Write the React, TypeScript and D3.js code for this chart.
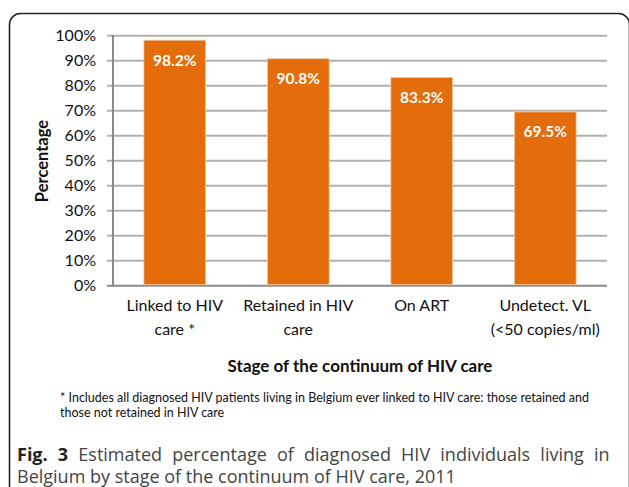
import React from "react";
import * as d3 from "d3";

const categories = ["Linked to HIV|care *", "Retained in HIV|care", "On ART", "Undetect. VL|(<50 copies/ml)"];
const values = [0.982, 0.908, 0.833, 0.695];
const valueLabels = ["98.2%", "90.8%", "83.3%", "69.5%"];
const yTicks = [0, 0.1, 0.2, 0.3, 0.4, 0.5, 0.6, 0.7, 0.8, 0.9, 1.0];

const W = 629, H = 487;
const chartFont = "Lato, 'Open Sans', sans-serif";
const capFont = "'Open Sans', sans-serif";

export default function App() {
  const x = d3.scaleBand<string>().domain(categories).range([113, 607]).paddingInner(0.5).paddingOuter(0.25);
  const y = d3.scaleLinear().domain([0, 1]).range([285.7, 35.7]);
  const fmt = d3.format(".0%");
  const cx = (c: string) => (x(c) as number) + x.bandwidth() / 2;
  return (
    <svg width={W} height={H} style={{ position: "absolute", left: 0, top: 0, background: "#fff" }}>
      <rect x={9.5} y={13.5} width={620} height={500} rx={11} ry={11} fill="none" stroke="#222" strokeWidth={1.6} />
      {yTicks.map((t) => (
        <g key={t}>
          <line x1={107} x2={607} y1={y(t)} y2={y(t)} stroke={t === 0 ? "#8a8a8a" : "#b0b0b0"} strokeWidth={2} />
          <text x={96} y={y(t) + 5.5} textAnchor="end" fontFamily={chartFont} fontSize={16} fill="#111">{fmt(t)}</text>
        </g>
      ))}
      <line x1={113} x2={113} y1={35} y2={286.7} stroke="#8a8a8a" strokeWidth={2} />
      {categories.map((c, i) => (
        <g key={c}>
          <rect x={x(c)} y={y(values[i])} width={x.bandwidth()} height={y(0) - y(values[i]) - 1} fill="#E46C0A" stroke="#f3c9a8" strokeWidth={0.8} />
          <text x={cx(c)} y={y(values[i]) + 25.5} textAnchor="middle" fontFamily={chartFont} fontWeight="bold" fontSize={15.5} fill="#fff">{valueLabels[i]}</text>
          {c.split("|").map((line, j) => (
            <text key={j} x={cx(c)} y={310.5 + j * 24} textAnchor="middle" fontFamily={chartFont} fontSize={16} fill="#111">{line}</text>
          ))}
        </g>
      ))}
      <text transform="translate(48,161) rotate(-90)" textAnchor="middle" fontFamily={chartFont} fontWeight="bold" fontSize={16.5} fill="#111">Percentage</text>
      <text x={360} y={371.5} textAnchor="middle" fontFamily={chartFont} fontWeight="bold" fontSize={17} fill="#111">Stage of the continuum of HIV care</text>
      <text x={60} y={402} fontFamily={chartFont} fontSize={12.5} fill="#111">* Includes all diagnosed HIV patients living in Belgium ever linked to HIV care: those retained and</text>
      <text x={60} y={417} fontFamily={chartFont} fontSize={12.5} fill="#111">those not retained in HIV care</text>
      <text x={17} y={461} fontFamily={capFont} fontSize={18} fill="#444" wordSpacing={5.5}><tspan fontWeight="bold" fill="#222">Fig. 3</tspan> Estimated percentage of diagnosed HIV individuals living in</text>
      <text x={17} y={483} fontFamily={capFont} fontSize={18} fill="#444">Belgium by stage of the continuum of HIV care, 2011</text>
    </svg>
  );
}
